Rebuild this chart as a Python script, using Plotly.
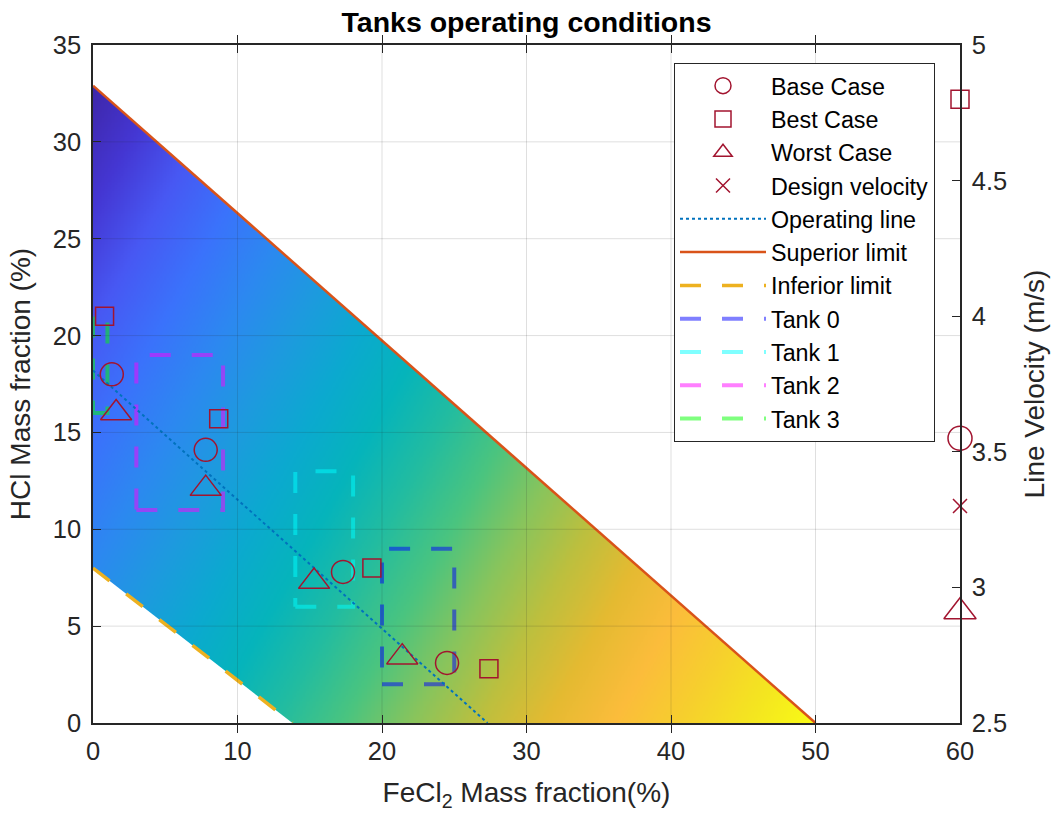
import numpy as np
import plotly.graph_objects as go

# ---------------- data ----------------
base_x = [1.3, 7.8, 17.3, 24.5]
base_y = [18.0, 14.1, 7.8, 3.1]
best_x = [0.8, 8.7, 19.3, 27.4]
best_y = [21.0, 15.7, 8.0, 2.8]
worst_x = [1.6, 7.8, 15.3, 21.4]
worst_y = [16.0, 12.1, 7.3, 3.4]

vel_x = [60]
vel_base = [3.55]
vel_best = [4.80]
vel_worst = [2.91]
vel_design = [3.30]

op_x = [0, 27.3]
op_y = [18.2, 0]
sup_x = [0, 50]
sup_y = [32.9, 0]
inf_x = [0, 13.8]
inf_y = [8.0, 0]

tank_names = ["Tank 0", "Tank 1", "Tank 2", "Tank 3"]
tank_x0 = [20, 14, 3, 0]
tank_x1 = [25, 18, 9, 1]
tank_y0 = [2, 6, 11, 16]
tank_y1 = [9, 13, 19, 21]
tank_colors = ["rgba(0,0,255,0.5)", "rgba(0,255,255,0.5)",
               "rgba(255,0,255,0.5)", "rgba(0,255,0,0.5)"]

# colour values at patch vertices
patch_x = [0, 50, 13.8, 0]
patch_y = [32.9, 0, 0, 8]
patch_c = [0.0, 1.0, 0.515, 0.25]

x_range = [0, 60]
y_range = [0, 35]
y2_range = [2.5, 5]
x_ticks = [0, 10, 20, 30, 40, 50, 60]
y_ticks = [0, 5, 10, 15, 20, 25, 30, 35]
y2_ticks = [2.5, 3, 3.5, 4, 4.5, 5]

parula = [
    [0.000, "#3e26a8"], [0.063, "#4436d2"], [0.125, "#4758f3"],
    [0.188, "#3a72fb"], [0.250, "#2c88f0"], [0.313, "#1d9ade"],
    [0.375, "#0ba9cf"], [0.438, "#05b4bb"], [0.500, "#22bca0"],
    [0.563, "#4ac47f"], [0.625, "#88c45c"], [0.688, "#bcbf3e"],
    [0.750, "#e4ba31"], [0.813, "#fbbc3b"], [0.875, "#f6cf2d"],
    [0.938, "#f4e520"], [1.000, "#f9fb15"],
]

RED = "#A2142F"
AX = "#262626"
FONT = "Liberation Sans, Arial, sans-serif"

# ---------------- gradient patch ----------------
A = np.column_stack([np.ones(len(patch_x)), patch_x, patch_y])
coef, *_ = np.linalg.lstsq(A, np.array(patch_c), rcond=None)
step = 0.1
gx = np.arange(0, 50.05 + step, step)
gy = np.arange(0, 33.0 + step, step)
GX, GY = np.meshgrid(gx, gy)
Z = coef[0] + coef[1] * GX + coef[2] * GY
upper = np.interp(GX, sup_x, sup_y)
lower = np.interp(GX, inf_x, inf_y)
mask = (GY <= upper + step) & (GY >= lower - step) & (GX <= sup_x[1] + step)
Z = np.where(mask, np.round(Z, 4), np.nan)

fig = go.Figure()
fig.add_trace(go.Heatmap(x=gx, y=gy, z=Z, colorscale=parula, zmin=0, zmax=1,
                         showscale=False, hoverinfo="skip", showlegend=False))

# white masks trimming the patch edges exactly on the limit lines
fig.add_trace(go.Scatter(x=[inf_x[0], inf_x[0], inf_x[1], inf_x[0]],
                         y=[y_range[0], inf_y[0], inf_y[1], y_range[0]],
                         fill="toself", fillcolor="white", mode="lines",
                         line=dict(width=0, color="white"), showlegend=False, hoverinfo="skip"))
fig.add_trace(go.Scatter(x=[sup_x[0], sup_x[0], x_range[1], x_range[1], sup_x[1], sup_x[0]],
                         y=[sup_y[0], y_range[1], y_range[1], y_range[0], sup_y[1], sup_y[0]],
                         fill="toself", fillcolor="white", mode="lines",
                         line=dict(width=0, color="white"), showlegend=False, hoverinfo="skip"))

# tanks
for i, name in enumerate(tank_names):
    xs = [tank_x0[i], tank_x1[i], tank_x1[i], tank_x0[i], tank_x0[i]]
    ys = [tank_y0[i], tank_y0[i], tank_y1[i], tank_y1[i], tank_y0[i]]
    fig.add_trace(go.Scatter(x=xs, y=ys, mode="lines", name=name,
                             line=dict(color=tank_colors[i], width=4, dash="21px,21px"),
                             legendrank=8 + i))

fig.add_trace(go.Scatter(x=op_x, y=op_y, mode="lines", name="Operating line",
                         line=dict(color="#0072BD", width=2, dash="dot"), legendrank=5))
fig.add_trace(go.Scatter(x=sup_x, y=sup_y, mode="lines", name="Superior limit",
                         line=dict(color="#D95319", width=2.5), legendrank=6))
fig.add_trace(go.Scatter(x=inf_x, y=inf_y, mode="lines", name="Inferior limit",
                         line=dict(color="#EDB120", width=3.5, dash="21px,21px"), legendrank=7))

mk = dict(color=RED, line=dict(color=RED, width=1.5))
fig.add_trace(go.Scatter(x=base_x, y=base_y, mode="markers", name="Base Case",
                         marker=dict(symbol="circle-open", size=23, **mk), legendrank=1))
fig.add_trace(go.Scatter(x=best_x, y=best_y, mode="markers", name="Best Case",
                         marker=dict(symbol="square-open", size=18, **mk), legendrank=2))
fig.add_trace(go.Scatter(x=worst_x, y=worst_y, mode="markers", name="Worst Case",
                         marker=dict(symbol="triangle-up-open", size=27, **mk), legendrank=3))

# velocity markers on right axis
fig.add_trace(go.Scatter(x=vel_x, y=vel_design, mode="markers", name="Design velocity",
                         yaxis="y2", cliponaxis=False,
                         marker=dict(symbol="x-thin-open", size=14, **mk), legendrank=4))
fig.add_trace(go.Scatter(x=vel_x, y=vel_base, mode="markers", yaxis="y2", cliponaxis=False,
                         showlegend=False, marker=dict(symbol="circle-open", size=24, **mk)))
fig.add_trace(go.Scatter(x=vel_x, y=vel_best, mode="markers", yaxis="y2", cliponaxis=False,
                         showlegend=False, marker=dict(symbol="square-open", size=18, **mk)))
fig.add_trace(go.Scatter(x=vel_x, y=vel_worst, mode="markers", yaxis="y2", cliponaxis=False,
                         showlegend=False, marker=dict(symbol="triangle-up-open", size=28, **mk)))

# grid lines on top of the patch (MATLAB layer top)
shapes = []
for v in x_ticks[1:-1]:
    shapes.append(dict(type="line", xref="x", yref="paper", x0=v, x1=v, y0=0, y1=1,
                       line=dict(color="rgba(38,38,38,0.15)", width=1), layer="above"))
for v in y_ticks[1:-1]:
    shapes.append(dict(type="line", xref="paper", yref="y", x0=0, x1=1, y0=v, y1=v,
                       line=dict(color="rgba(38,38,38,0.15)", width=1), layer="above"))

fig.update_layout(
    width=1060, height=816,
    margin=dict(l=93, r=100, t=45, b=93),
    paper_bgcolor="white", plot_bgcolor="white",
    font=dict(family=FONT, color=AX, size=25),
    title=dict(text="<b>Tanks operating conditions</b>", x=0.5, xref="paper",
               y=1 - 22 / 816, yref="container", yanchor="middle",
               font=dict(size=28.5, color="black", family=FONT)),
    xaxis=dict(range=x_range, tickvals=x_ticks, ticks="inside", ticklen=8,
               tickcolor=AX, showline=True, linecolor=AX, linewidth=1.5,
               mirror="allticks", showgrid=False, zeroline=False,
               tickfont=dict(size=25.5), ticklabelstandoff=5,
               title=dict(text="FeCl<sub>2</sub> Mass fraction(%)", font=dict(size=28), standoff=18)),
    yaxis=dict(range=y_range, tickvals=y_ticks, ticks="inside", ticklen=8,
               tickcolor=AX, showline=True, linecolor=AX, linewidth=1.5,
               showgrid=False, zeroline=False, tickfont=dict(size=25.5), ticklabelstandoff=5,
               title=dict(text="HCl Mass fraction (%)", font=dict(size=28), standoff=14)),
    yaxis2=dict(range=y2_range, tickvals=y2_ticks, ticks="inside", ticklen=8,
                tickcolor=AX, showline=True, linecolor=AX, linewidth=1.5,
                overlaying="y", side="right", showgrid=False, zeroline=False,
                tickfont=dict(size=25.5), ticklabelstandoff=5,
                title=dict(text="Line Velocity (m/s)", font=dict(size=28), standoff=18)),
    legend=dict(x=(674 - 93) / 867, y=(723 - 63) / 678, xanchor="left", yanchor="top",
                bgcolor="white", bordercolor=AX, borderwidth=1,
                font=dict(size=23.3, color="black"), itemwidth=86,
                traceorder="normal"),
    shapes=shapes,
    showlegend=True,
)

fig.write_html("out.html")
